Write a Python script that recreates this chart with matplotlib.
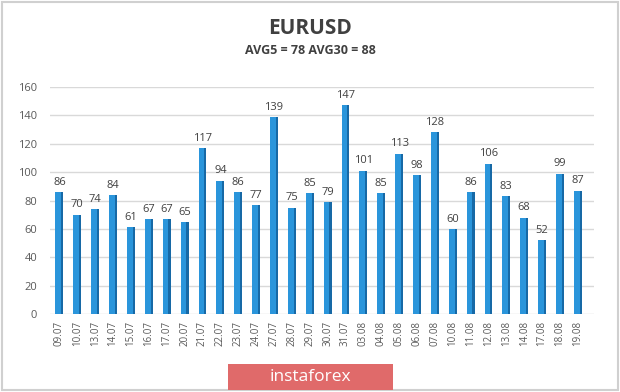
import matplotlib
matplotlib.use('Agg')
from matplotlib import pyplot as plt
from matplotlib.patches import Rectangle

dates = ['09.07', '10.07', '13.07', '14.07', '15.07', '16.07', '17.07', '20.07',
         '21.07', '22.07', '23.07', '24.07', '27.07', '28.07', '29.07', '30.07',
         '31.07', '03.08', '04.08', '05.08', '06.08', '07.08', '10.08', '11.08',
         '12.08', '13.08', '14.08', '17.08', '18.08', '19.08']
values = [86, 70, 74, 84, 61, 67, 67, 65, 117, 94, 86, 77, 139, 75, 85, 79,
          147, 101, 85, 113, 98, 128, 60, 86, 106, 83, 68, 52, 99, 87]
yticks = [0, 20, 40, 60, 80, 100, 120, 140, 160]

plt.rcParams['font.family'] = ['Open Sans', 'DejaVu Sans']

fig = plt.figure(figsize=(6.2, 3.92), dpi=100)
ax = fig.add_axes([0.08, 0.199, 0.878, 0.579])

x = list(range(len(values)))
ax.bar(x, values, width=0.44, color='#2a95db', edgecolor='none', zorder=3)
# darker right side, fake 3d
ax.bar([i + 0.16 for i in x], values, width=0.12, color='#1769a6', edgecolor='none', zorder=4)

for i, v in zip(x, values):
    ax.text(i, v + 3, str(v), ha='center', va='bottom', fontsize=8, color='#404040')

ax.set_ylim(0, 160)
ax.set_xlim(-0.55, len(values) - 0.1)
ax.set_yticks(yticks)
ax.set_yticklabels([str(t) for t in yticks], fontsize=8, color='#595959')
ax.set_xticks(x)
ax.set_xticklabels(dates, rotation=90, fontsize=7, color='#595959')
ax.tick_params(length=0, pad=9)
ax.tick_params(axis='x', pad=5)
ax.grid(axis='y', color='#d9d9d9', linewidth=1, zorder=0)
for s in ax.spines.values():
    s.set_visible(False)

fig.text(0.5, 0.928, 'EURUSD', ha='center', va='center', fontsize=15,
         fontweight='bold', color='#404040')
fig.text(0.5, 0.872, 'AVG5 = 78 AVG30 = 88', ha='center', va='center', fontsize=9,
         fontweight='bold', color='#404040')

# frame around the picture
fig.patches.append(Rectangle((0.003, 0.004), 0.994, 0.99, transform=fig.transFigure,
                             fill=False, edgecolor='#d0d0d0', linewidth=1.5))
# banner
fig.patches.append(Rectangle((228 / 620, 2 / 392), 165 / 620, 26 / 392, transform=fig.transFigure,
                             facecolor='#e06a6a', edgecolor='none'))
fig.text(310 / 620, 15 / 392, 'instaforex', ha='center', va='center', fontsize=12.5,
         color='white')

plt.savefig('out.png', dpi=100)
